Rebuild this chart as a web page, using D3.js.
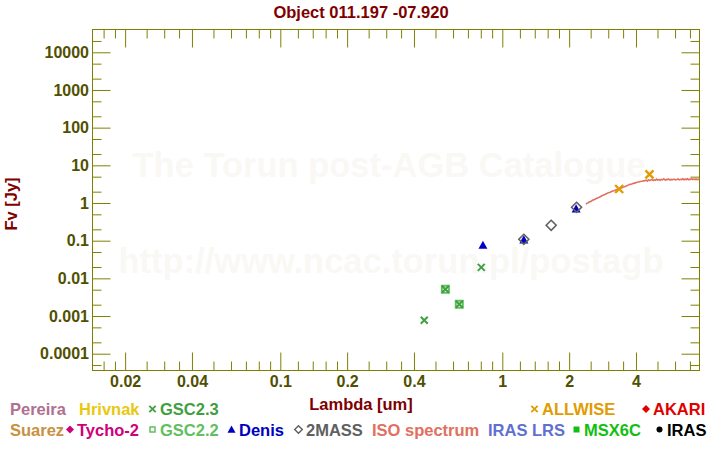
<!DOCTYPE html>
<html>
<head>
<meta charset="utf-8">
<script src="https://cdn.jsdelivr.net/npm/d3@7"></script>
<style>
  html, body { margin: 0; padding: 0; background: #ffffff; }
  svg { display: block; font-family: "Liberation Sans", Arial, sans-serif; font-weight: bold; }
</style>
</head>
<body>
<svg id="chart" width="720" height="450"></svg>
<script>
// ---------------- data ----------------
const titleText = "Object 011.197 -07.920";

const xMajorTicks = [0.02, 0.04, 0.1, 0.2, 0.4, 1, 2, 4];
const xTickLabels = ["0.02", "0.04", "0.1", "0.2", "0.4", "1", "2", "4"];
const xMinorTicks = [0.016, 0.018, 0.025, 0.03, 0.035, 0.05, 0.06, 0.07, 0.08, 0.09,
  0.12, 0.14, 0.16, 0.18, 0.25, 0.3, 0.35, 0.5, 0.6, 0.7, 0.8, 0.9,
  1.2, 1.4, 1.6, 1.8, 2.5, 3, 3.5, 5, 6, 7];
const yMajorTicks = [1e-4, 1e-3, 1e-2, 1e-1, 1, 10, 100, 1000, 10000];
const yTickLabels = ["0.0001", "0.001", "0.01", "0.1", "1", "10", "100", "1000", "10000"];
const yMinorTicks = [5e-5, 2e-4, 5e-4, 2e-3, 5e-3, 2e-2, 5e-2, 0.2, 0.5, 2, 5, 20, 50, 200, 500, 2000, 5000, 20000];

const xDomain = [0.01426, 7.73];
const yDomain = [3.58e-5, 40300];

const gsc23Lambda = [0.445, 0.554, 0.640, 0.804];
const gsc23Flux   = [0.00077, 0.00512, 0.00205, 0.0196];
const gsc22Lambda = [0.554, 0.640];
const gsc22Flux   = [0.00512, 0.00205];
const denisLambda = [0.818, 1.25, 2.15];
const denisFlux   = [0.0736, 0.1023, 0.68];
const twomassLambda = [1.25, 1.66, 2.16];
const twomassFlux   = [0.109, 0.256, 0.77];
const allwiseLambda = [3.36, 4.60];
const allwiseFlux   = [2.35, 5.78];

const isoLambda = [2.38, 2.42, 2.46, 2.50, 2.55, 2.60, 2.65, 2.70, 2.76, 2.82, 2.88, 2.94, 3.00, 3.06,
  3.12, 3.18, 3.24, 3.30, 3.36, 3.42, 3.48, 3.55, 3.62, 3.69, 3.76, 3.83, 3.90, 3.97, 4.04, 4.11,
  4.18, 4.25, 4.32, 4.39, 4.46, 4.50, 4.55, 4.60, 4.66, 4.72, 4.78, 4.84, 4.90, 4.96, 5.02, 5.08,
  5.14, 5.20, 5.27, 5.34, 5.41, 5.48, 5.55, 5.62, 5.70, 5.78, 5.86, 5.94, 6.02, 6.10, 6.18, 6.26,
  6.34, 6.42, 6.50, 6.58, 6.66, 6.74, 6.82, 6.90, 6.98, 7.06, 7.14, 7.22, 7.30, 7.38, 7.46, 7.54,
  7.62, 7.70, 7.80];
const isoFlux = [0.94, 0.99, 1.06, 1.10, 1.18, 1.24, 1.31, 1.37, 1.47, 1.58, 1.66, 1.75, 1.86, 1.93,
  2.04, 2.12, 2.22, 2.30, 2.40, 2.47, 2.56, 2.72, 2.83, 2.98, 3.12, 3.20, 3.32, 3.42, 3.55, 3.62,
  3.72, 3.78, 3.86, 3.92, 4.02, 3.82, 4.10, 3.95, 4.05, 4.22, 3.96, 4.12, 4.02, 4.30, 4.06, 4.18,
  4.02, 4.25, 4.10, 4.40, 4.08, 4.22, 4.14, 4.34, 4.06, 4.24, 4.16, 4.30, 4.12, 4.22, 4.36, 4.10,
  4.26, 4.18, 4.38, 4.15, 4.28, 4.20, 4.40, 4.14, 4.30, 4.22, 4.42, 4.18, 4.32, 4.20, 4.34, 4.16,
  4.28, 4.22, 4.26];

// legend entries
const legendLabels  = ["Pereira", "Hrivnak", "GSC2.3", "ALLWISE", "AKARI",
  "Suarez", "Tycho-2", "GSC2.2", "Denis", "2MASS", "ISO spectrum", "IRAS LRS", "MSX6C", "IRAS"];
const legendColors  = ["#b07090", "#e8c810", "#40a040", "#e09c00", "#e00000",
  "#c89040", "#d0007a", "#60c060", "#0000c0", "#606060", "#e07060", "#6070d0", "#10c010", "#000000"];
const legendMarkers = ["", "", "cross", "cross", "diamond",
  "", "diamond", "square", "triangle", "hdiamond", "", "", "fsquare", "circle"];
const legendX       = [10, 79, 160, 542, 653, 10, 77, 160, 239, 306, 372, 488, 584, 667];
const legendRow     = [0, 0, 0, 0, 0, 1, 1, 1, 1, 1, 1, 1, 1, 1];

// ---------------- drawing ----------------
const svg = d3.select("#chart");
const pL = 92.5, pR = 699.5, pT = 29.5, pB = 370.5;
const axisColor = "#808000";
const tickTextColor = "#505000";
const titleColor = "#800000";

const x = d3.scaleLog().domain(xDomain).range([pL, pR]);
const y = d3.scaleLog().domain(yDomain).range([pB, pT]);

// watermark
svg.append("text").attr("x", 389).attr("y", 177).attr("text-anchor", "middle")
  .attr("font-size", 34.5).attr("fill", "#faf8f5").text("The Torun post-AGB Catalogue");
svg.append("text").attr("x", 391).attr("y", 273).attr("text-anchor", "middle")
  .attr("font-size", 34.5).attr("fill", "#faf8f5").text("http://www.ncac.torun.pl/postagb");

// title
svg.append("text").attr("x", 361).attr("y", 17.5).attr("text-anchor", "middle")
  .attr("font-size", 16.5).attr("fill", titleColor).text(titleText);

// axes
function styleAxis(g) {
  g.select(".domain").remove();
  g.selectAll(".tick line").attr("stroke", axisColor).attr("stroke-width", 1);
  g.selectAll(".tick text").attr("fill", tickTextColor)
    .attr("font-size", 16).attr("font-weight", "bold")
    .attr("font-family", "'Liberation Sans', Arial, sans-serif");
}
const fmtX = d => xTickLabels[xMajorTicks.indexOf(d)];
const fmtY = d => yTickLabels[yMajorTicks.indexOf(d)];

svg.append("g").attr("transform", `translate(0,${pB})`)
  .call(d3.axisBottom(x).tickValues(xMajorTicks).tickFormat(fmtX).tickSizeInner(-18).tickSizeOuter(0).tickPadding(5))
  .call(styleAxis);
svg.append("g").attr("transform", `translate(0,${pB})`)
  .call(d3.axisBottom(x).tickValues(xMinorTicks).tickFormat("").tickSizeInner(-9).tickSizeOuter(0))
  .call(styleAxis);
svg.append("g").attr("transform", `translate(0,${pT})`)
  .call(d3.axisTop(x).tickValues(xMajorTicks).tickFormat("").tickSizeInner(-18).tickSizeOuter(0))
  .call(styleAxis);
svg.append("g").attr("transform", `translate(0,${pT})`)
  .call(d3.axisTop(x).tickValues(xMinorTicks).tickFormat("").tickSizeInner(-9).tickSizeOuter(0))
  .call(styleAxis);
svg.append("g").attr("transform", `translate(${pL},0)`)
  .call(d3.axisLeft(y).tickValues(yMajorTicks).tickFormat(fmtY).tickSizeInner(-18).tickSizeOuter(0).tickPadding(3.5))
  .call(styleAxis);
svg.append("g").attr("transform", `translate(${pL},0)`)
  .call(d3.axisLeft(y).tickValues(yMinorTicks).tickFormat("").tickSizeInner(-9).tickSizeOuter(0))
  .call(styleAxis);
svg.append("g").attr("transform", `translate(${pR},0)`)
  .call(d3.axisRight(y).tickValues(yMajorTicks).tickFormat("").tickSizeInner(-18).tickSizeOuter(0))
  .call(styleAxis);
svg.append("g").attr("transform", `translate(${pR},0)`)
  .call(d3.axisRight(y).tickValues(yMinorTicks).tickFormat("").tickSizeInner(-9).tickSizeOuter(0))
  .call(styleAxis);

svg.append("rect").attr("x", pL).attr("y", pT).attr("width", pR - pL).attr("height", pB - pT)
  .attr("fill", "none").attr("stroke", axisColor).attr("stroke-width", 1);

// axis titles
svg.append("text").attr("x", 361).attr("y", 410).attr("text-anchor", "middle")
  .attr("font-size", 16.5).attr("fill", titleColor).text("Lambda [um]");
svg.append("text").attr("transform", "translate(16.5,204) rotate(-90)").attr("text-anchor", "middle")
  .attr("font-size", 16.5).attr("fill", titleColor).text("Fv [Jy]");

// marker paths
const crossPath = (cx, cy, s) => `M${cx - s},${cy - s}L${cx + s},${cy + s}M${cx - s},${cy + s}L${cx + s},${cy - s}`;
const triPath = (cx, cy, s) => `M${cx},${cy - s * 1.1}L${cx + s},${cy + s * 0.7}L${cx - s},${cy + s * 0.7}Z`;
const diaPath = (cx, cy, s) => `M${cx},${cy - s}L${cx + s},${cy}L${cx},${cy + s}L${cx - s},${cy}Z`;
const sqPath = (cx, cy, s) => `M${cx - s},${cy - s}H${cx + s}V${cy + s}H${cx - s}Z`;

svg.append("clipPath").attr("id", "clip").append("rect")
  .attr("x", pL).attr("y", pT).attr("width", pR - pL).attr("height", pB - pT);
const plot = svg.append("g");

// ISO spectrum
const isoData = isoLambda.map((l, i) => [l, isoFlux[i]]);
plot.append("path").datum(isoData).attr("clip-path", "url(#clip)")
  .attr("d", d3.line().x(d => x(d[0])).y(d => y(d[1])))
  .attr("fill", "none").attr("stroke", "#e07060").attr("stroke-width", 1.6);

// GSC2.2 squares
plot.selectAll(".g22").data(gsc22Lambda.map((l, i) => [l, gsc22Flux[i]])).join("path")
  .attr("d", d => sqPath(x(d[0]), y(d[1]), 3.5))
  .attr("fill", "none").attr("stroke", "#60c060").attr("stroke-width", 2);
// GSC2.3 crosses
plot.selectAll(".g23").data(gsc23Lambda.map((l, i) => [l, gsc23Flux[i]])).join("path")
  .attr("d", d => crossPath(x(d[0]), y(d[1]), 3.5))
  .attr("fill", "none").attr("stroke", "#40a040").attr("stroke-width", 2);
// Denis triangles
plot.selectAll(".den").data(denisLambda.map((l, i) => [l, denisFlux[i]])).join("path")
  .attr("d", d => triPath(x(d[0]), y(d[1]), 4.5))
  .attr("fill", "#0000c8");
// 2MASS diamonds
plot.selectAll(".tm").data(twomassLambda.map((l, i) => [l, twomassFlux[i]])).join("path")
  .attr("d", d => diaPath(x(d[0]), y(d[1]), 5))
  .attr("fill", "none").attr("stroke", "#606060").attr("stroke-width", 1.6);
// ALLWISE crosses
plot.selectAll(".aw").data(allwiseLambda.map((l, i) => [l, allwiseFlux[i]])).join("path")
  .attr("d", d => crossPath(x(d[0]), y(d[1]), 4))
  .attr("fill", "none").attr("stroke", "#e09c00").attr("stroke-width", 2.4);

// legend
const rowBase = [415, 435.5];
legendLabels.forEach((lab, i) => {
  const tx = legendX[i], by = rowBase[legendRow[i]], cy = by - 6, col = legendColors[i];
  const m = legendMarkers[i];
  const mx = tx - 8;
  if (m === "cross") svg.append("path").attr("d", crossPath(mx + 0.5, cy, 3.2)).attr("stroke", col).attr("stroke-width", 1.8).attr("fill", "none");
  if (m === "diamond") svg.append("path").attr("d", diaPath(mx + 1, cy, 4)).attr("fill", col);
  if (m === "square") svg.append("path").attr("d", sqPath(mx + 0.5, cy, 2.5)).attr("fill", "none").attr("stroke", col).attr("stroke-width", 1.5);
  if (m === "triangle") svg.append("path").attr("d", triPath(mx + 0.5, cy + 0.5, 4)).attr("fill", col);
  if (m === "hdiamond") svg.append("path").attr("d", diaPath(mx + 0.5, cy, 3.8)).attr("fill", "none").attr("stroke", col).attr("stroke-width", 1.4);
  if (m === "fsquare") svg.append("path").attr("d", sqPath(mx + 0.5, cy, 3)).attr("fill", col);
  if (m === "circle") svg.append("circle").attr("cx", mx + 0.5).attr("cy", cy).attr("r", 3).attr("fill", col);
  svg.append("text").attr("x", tx).attr("y", by).attr("font-size", 16.5).attr("fill", col).text(lab);
});
</script>
</body>
</html>
